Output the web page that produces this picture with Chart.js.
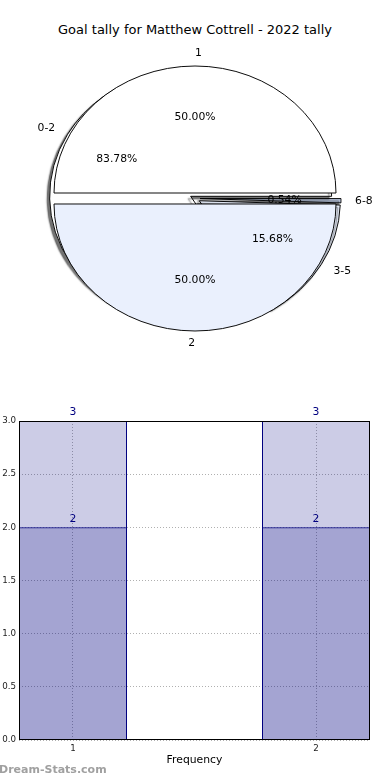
<!DOCTYPE html>
<html>
<head>
<meta charset="utf-8">
<script src="https://cdn.jsdelivr.net/npm/chart.js@4/dist/chart.umd.min.js"></script>
<style>
html,body{margin:0;padding:0;background:#fff;width:390px;height:780px;overflow:hidden;position:relative;font-family:"DejaVu Sans",sans-serif;}
#title{position:absolute;left:0;top:21px;width:390px;text-align:center;font-size:13px;line-height:18px;color:#000;white-space:nowrap;}
#wm{position:absolute;left:-1px;top:762px;font-size:11px;line-height:16px;color:#a0a0a0;font-weight:bold;white-space:nowrap;}
canvas{position:absolute;left:0;}
</style>
</head>
<body>
<div id="title"></div>
<canvas id="pieBack" width="390" height="397" style="top:0"></canvas>
<canvas id="pieFront" width="390" height="397" style="top:0"></canvas>
<canvas id="bars" width="390" height="383" style="top:397px"></canvas>
<div id="wm">Dream-Stats.com</div>
<script>
// ---------- data ----------
const chartTitle = 'Goal tally for Matthew Cottrell - 2022 tally';
const halfLabels = ['1', '2'];
const halfValues = [50, 50];
const rangeLabels = ['0-2', '3-5', '6-8'];
const rangeValues = [83.78, 15.68, 0.54];
const freqX = [1, 2];
const freqTotal = [3, 3];
const freqPart = [2, 2];
const xTickLabels = ['1', '2'];
const yTickValues = [0, 0.5, 1, 1.5, 2, 2.5, 3];
const xAxisTitle = 'Frequency';

document.getElementById('title').textContent = chartTitle;

// ---------- styles ----------
const SQUASH = 127 / 141;
const PIE_RADIUS = 141;
const LABEL_FONT = '10.8px "DejaVu Sans"';
const BAR_HALF = 0.2222;

// Ellipse + explode plugin for pies
const ellipsePie = {
  id: 'ellipsePie',
  beforeDatasetsDraw(chart, args, opts) {
    const ctx = chart.ctx;
    const meta = chart.getDatasetMeta(0);
    const a0 = meta.data[0];
    const cx = a0.x, cy = a0.y;
    meta.data.forEach((arc, i) => {
      if (!arc._exWrapped) {
        const orig = arc.draw;
        arc.draw = function (c, area) {
          const ex = (opts.explode || [])[i] || 0;
          const mid = (this.startAngle + this.endAngle) / 2;
          c.save();
          c.translate(Math.cos(mid) * ex, Math.sin(mid) * ex);
          orig.call(this, c, area);
          c.restore();
        };
        arc._exWrapped = true;
      }
    });
    ctx.save();
    ctx.translate(cx, cy);
    ctx.scale(1, SQUASH);
    ctx.translate(-cx, -cy);
    if (opts.shadow) {
      ctx.shadowColor = 'rgba(0,0,0,0.55)';
      ctx.shadowOffsetX = -2.5;
      ctx.shadowOffsetY = 2.5;
      ctx.shadowBlur = 1.5;
    }
  },
  afterDatasetsDraw(chart) {
    chart.ctx.restore();
  }
};

function drawPieLabels(ctx, chart, explode) {
  const meta = chart.getDatasetMeta(0);
  const ds = chart.data.datasets[0];
  const total = ds.data.reduce((a, b) => a + b, 0);
  ctx.save();
  ctx.font = LABEL_FONT;
  ctx.fillStyle = '#000';
  ctx.textBaseline = 'middle';
  meta.data.forEach((arc, i) => {
    const p = arc.getProps(['x', 'y', 'startAngle', 'endAngle', 'outerRadius'], true);
    const ex = explode[i] || 0;
    const mid = (p.startAngle + p.endAngle) / 2;
    const c = Math.cos(mid), s = Math.sin(mid);
    const pos = d => ({x: p.x + c * (p.outerRadius * d + ex), y: p.y + SQUASH * s * (p.outerRadius * d + ex)});
    const L = pos(1.1);
    ctx.textAlign = Math.abs(c) < 1e-9 ? (s < 0 ? 'left' : 'right') : (c > 0 ? 'left' : 'right');
    ctx.fillText(chart.data.labels[i], L.x, L.y);
    const P = pos(0.6);
    ctx.textAlign = 'center';
    ctx.fillText((ds.data[i] / total * 100).toFixed(2) + '%', P.x, P.y);
  });
  ctx.restore();
}

const backExplode = [5, 5, 5];
const frontExplode = [6.1, 6.1];

// back pie (ranges) — matplotlib counter-clockwise order reversed for clockwise drawing
const backLabels = rangeLabels.slice().reverse();
const backValues = rangeValues.slice().reverse();
const backChart = new Chart(document.getElementById('pieBack'), {
  type: 'pie',
  data: {
    labels: backLabels,
    datasets: [{
      data: backValues,
      backgroundColor: ['#b8c4dc', '#eaf0fd', '#ffffff'],
      borderColor: '#000',
      borderWidth: 1,
      radius: PIE_RADIUS,
      rotation: 90
    }]
  },
  options: {
    responsive: false, animation: false, events: [],
    layout: {padding: 0},
    plugins: {legend: {display: false}, tooltip: {enabled: false},
      ellipsePie: {explode: backExplode, shadow: true}}
  },
  plugins: [ellipsePie]
});

new Chart(document.getElementById('pieFront'), {
  type: 'pie',
  data: {
    labels: halfLabels,
    datasets: [{
      data: halfValues,
      backgroundColor: ['#ffffff', '#eaf0fd'],
      borderColor: '#000',
      borderWidth: 1,
      radius: PIE_RADIUS,
      rotation: 270
    }]
  },
  options: {
    responsive: false, animation: false, events: [],
    layout: {padding: 0},
    plugins: {legend: {display: false}, tooltip: {enabled: false},
      ellipsePie: {explode: frontExplode, shadow: false}}
  },
  plugins: [ellipsePie, {
    id: 'allLabels',
    afterDraw(chart) {
      drawPieLabels(chart.ctx, chart, frontExplode);
      drawPieLabels(chart.ctx, backChart, backExplode);
    }
  }]
});

// ---------- bar chart ----------
const framePlugin = {
  id: 'frame',
  afterDraw(chart) {
    const {ctx, chartArea: a} = chart;
    ctx.save();
    ctx.strokeStyle = '#000';
    ctx.lineWidth = 1;
    ctx.strokeRect(Math.round(a.left) + 0.5, Math.round(a.top) + 0.5,
      Math.round(a.right - a.left) - 1, Math.round(a.bottom - a.top) - 1);
    ctx.restore();
  }
};
const valueLabels = {
  id: 'valueLabels',
  afterDatasetsDraw(chart) {
    const ctx = chart.ctx;
    ctx.save();
    ctx.font = LABEL_FONT;
    ctx.fillStyle = '#000080';
    ctx.textAlign = 'center';
    ctx.textBaseline = 'bottom';
    chart.data.datasets.forEach((ds, di) => {
      chart.getDatasetMeta(di).data.forEach((bar, i) => {
        ctx.fillText(String(ds.data[i].y), bar.x, bar.y - 3);
      });
    });
    ctx.restore();
  }
};

const barStyle = {
  backgroundColor: 'rgba(0,0,128,0.2)',
  borderColor: '#000080',
  borderWidth: 1,
  grouped: false,
  categoryPercentage: 1,
  barPercentage: BAR_HALF * 2
};

new Chart(document.getElementById('bars'), {
  type: 'bar',
  data: {
    datasets: [
      Object.assign({label: 'total', data: freqX.map((x, i) => ({x: x, y: freqTotal[i]}))}, barStyle),
      Object.assign({label: 'part', data: freqX.map((x, i) => ({x: x, y: freqPart[i]}))}, barStyle)
    ]
  },
  options: {
    responsive: false, animation: false, events: [],
    layout: {padding: {top: 24, right: 20, left: 0, bottom: 0}},
    plugins: {legend: {display: false}, tooltip: {enabled: false}},
    scales: {
      x: {
        type: 'linear',
        offset: false,
        min: freqX[0] - BAR_HALF,
        max: freqX[freqX.length - 1] + BAR_HALF,
        afterBuildTicks: s => { s.ticks = freqX.map(v => ({value: v})); },
        afterFit: s => { s.height = 40; },
        ticks: {callback: (v, i) => xTickLabels[i], font: {family: 'DejaVu Sans', size: 8.7}, color: '#222', padding: 4, autoSkip: false, maxRotation: 0},
        grid: {color: '#b0b0b0', lineWidth: 1, drawTicks: false, offset: false},
        border: {display: false, dash: [1, 2]},
        title: {display: true, text: xAxisTitle, font: {family: 'DejaVu Sans', size: 10.8}, color: '#000', padding: {top: 0, bottom: 13.7}}
      },
      y: {
        min: yTickValues[0],
        max: yTickValues[yTickValues.length - 1],
        afterBuildTicks: s => { s.ticks = yTickValues.map(v => ({value: v})); },
        afterFit: s => { s.width = 19; },
        ticks: {callback: v => Number(v).toFixed(1), font: {family: 'DejaVu Sans', size: 8.7}, color: '#222', padding: 3},
        grid: {color: '#b0b0b0', lineWidth: 1, drawTicks: false},
        border: {display: false, dash: [1, 2]}
      }
    }
  },
  plugins: [framePlugin, valueLabels]
});
</script>
</body>
</html>
